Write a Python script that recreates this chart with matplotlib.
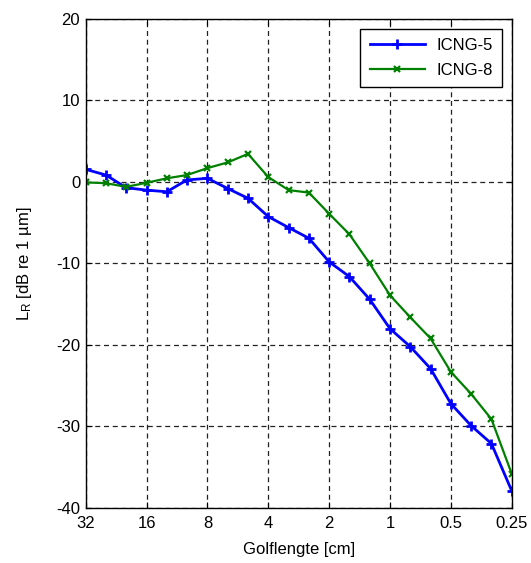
import matplotlib
matplotlib.use("Agg")
import matplotlib.pyplot as plt
from matplotlib.ticker import FixedLocator, FixedFormatter, NullLocator

plt.rcParams["font.family"] = ["Liberation Sans", "DejaVu Sans"]
plt.rcParams["mathtext.fontset"] = "custom"
plt.rcParams["mathtext.rm"] = "Liberation Sans"
plt.rcParams["mathtext.it"] = "Liberation Sans:italic"
plt.rcParams["axes.unicode_minus"] = False

# third-octave wavelengths [cm]
wavelength = [32, 25.4, 20.2, 16, 12.7, 10.1, 8, 6.35, 5.04, 4, 3.17, 2.52,
              2, 1.59, 1.26, 1, 0.794, 0.63, 0.5, 0.397, 0.315, 0.25]

icng5 = [1.55, 0.85, -0.7, -1.0, -1.2, 0.25, 0.45, -0.8, -2.0, -4.25, -5.6, -6.9,
         -9.8, -11.6, -14.4, -18.0, -20.2, -22.9, -27.2, -29.9, -32.1, -37.9]
icng8 = [-0.05, -0.15, -0.6, -0.1, 0.45, 0.85, 1.7, 2.4, 3.45, 0.6, -1.0, -1.3,
         -3.9, -6.4, -10.0, -13.9, -16.6, -19.2, -23.3, -26.0, -29.1, -35.8]

xticks = [32, 16, 8, 4, 2, 1, 0.5, 0.25]
xticklabels = ["32", "16", "8", "4", "2", "1", "0.5", "0.25"]
yticks = [-40, -30, -20, -10, 0, 10, 20]

fig = plt.figure(figsize=(5.31, 5.63), dpi=100)
ax = fig.add_axes([0.1614, 0.0977, 0.8023, 0.8686])

ax.plot(wavelength, icng5, color="#0000ff", lw=2, marker="+", ms=7, mew=2,
        label="ICNG-5")
ax.plot(wavelength, icng8, color="#008000", lw=1.6, marker="x", ms=5, mew=1.6,
        label="ICNG-8")

ax.set_xscale("log")
ax.set_xlim(32, 0.25)
ax.set_ylim(-40, 20)
ax.xaxis.set_major_locator(FixedLocator(xticks))
ax.xaxis.set_major_formatter(FixedFormatter(xticklabels))
ax.xaxis.set_minor_locator(NullLocator())
ax.set_yticks(yticks)

ax.grid(True, color="#222222", linestyle=(0, (4, 3)), linewidth=0.9)
ax.tick_params(direction="in", top=True, right=True, labelsize=12,
               length=4, width=0.8)
ax.tick_params(axis="x", pad=6)
ax.tick_params(axis="y", pad=4)
for s in ax.spines.values():
    s.set_linewidth(1.0)

ax.set_xlabel("Golflengte [cm]", fontsize=12, labelpad=8)
ax.set_ylabel("L$_\\mathrm{R}$ [dB re 1 \u00b5m]", fontsize=12, labelpad=16)

leg = ax.legend(loc="upper right", numpoints=1, handlelength=3.3,
                fontsize=12, fancybox=False, edgecolor="black",
                framealpha=1, borderaxespad=0.6, labelspacing=0.6,
                borderpad=0.55, handletextpad=0.7)
leg.get_frame().set_linewidth(1.0)

fig.savefig("out.png", dpi=100)
